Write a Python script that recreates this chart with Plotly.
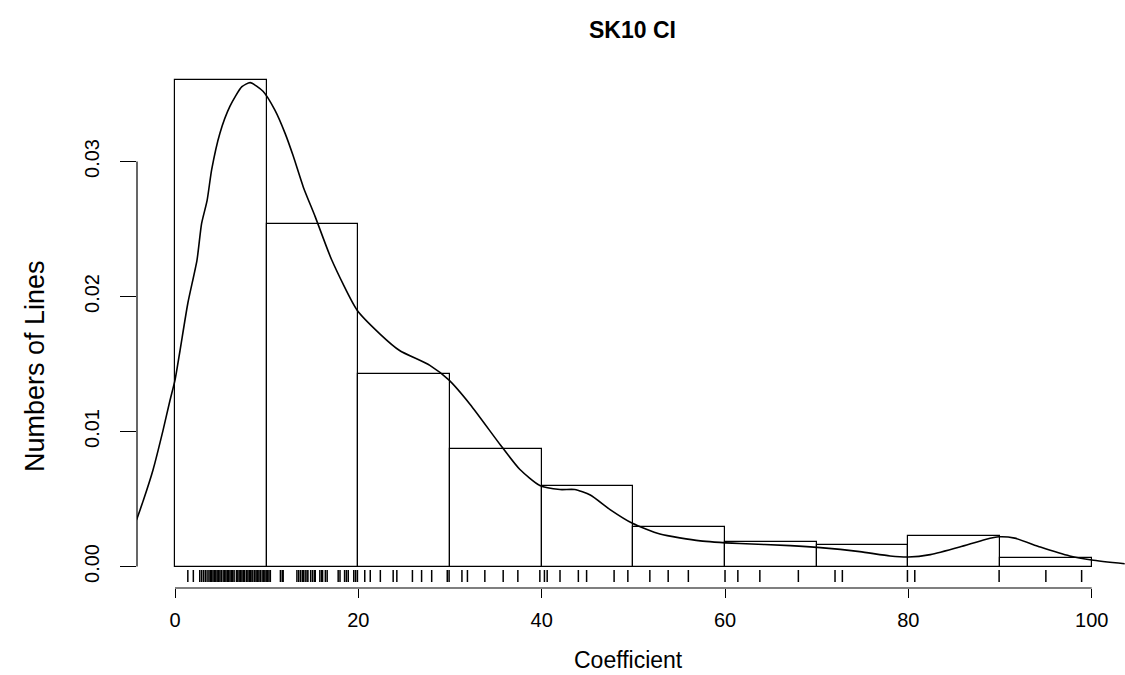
import plotly.graph_objects as go

# ---------------- data ----------------
bin_left = [0, 10, 20, 30, 40, 50, 60, 70, 80, 90]
bin_density = [0.03604, 0.02537, 0.01426, 0.0087, 0.00596, 0.00293, 0.00181, 0.00159, 0.00226, 0.00063]

dens_x = [-4.2, -3.45, -2.4, -1.3, -0.55, 0.0, 0.55, 1.4, 2.4, 2.9, 3.5, 4.0, 4.9, 6.0, 7.3, 8.2,
          9.6, 10.9, 12.0, 12.9, 14.0, 15.3, 17.1, 19.85, 22.4, 24.5, 27.8, 29.9, 32.2, 35.5, 37.6,
          39.8, 42.0, 43.6, 45.3, 47.5, 49.9, 52.9, 57.3, 61.6, 67.1, 70.4, 74.7, 78.0, 80.0, 82.4,
          85.6, 88.4, 89.9, 91.6, 94.4, 97.6, 100.0, 103.6]
dens_y = [0.00344, 0.0049, 0.00715, 0.0101, 0.0123, 0.0138, 0.016, 0.0195, 0.0227, 0.0254, 0.0271,
          0.0294, 0.0321, 0.0341, 0.03554, 0.03584, 0.0352, 0.0338, 0.0321, 0.0304, 0.0281, 0.0259,
          0.0227, 0.019, 0.0172, 0.016, 0.0149, 0.0138, 0.012, 0.009, 0.0072, 0.006, 0.0057, 0.0057,
          0.0053, 0.0042, 0.0032, 0.0024, 0.0019, 0.0017, 0.00155, 0.0014, 0.0011, 0.00078, 0.0007,
          0.00088, 0.00144, 0.002, 0.0022, 0.0021, 0.00144, 0.00078, 0.00048, 0.0002]

rug_values = [1.4, 2.0, 2.7, 2.9, 3.1, 3.3, 3.5, 3.7, 3.85, 4.0, 4.15, 4.3, 4.45, 4.6, 4.75, 4.9,
              5.05, 5.25, 5.4, 5.55, 5.7, 5.85, 6.0, 6.15, 6.3, 6.45, 6.7, 6.85, 7.0, 7.15, 7.3,
              7.45, 7.6, 7.8, 7.95, 8.1, 8.25, 8.4, 8.5, 8.7, 8.85, 9.0, 9.15, 9.3, 9.5, 9.65, 9.8,
              9.95, 10.1, 10.25, 10.4,
              11.5, 11.7, 11.8, 13.3, 13.5, 13.7, 13.9, 14.0, 14.2, 14.4, 14.5, 14.8, 15.0, 15.2,
              15.3, 15.8, 16.0, 16.1, 16.4, 16.6, 17.8, 18.0, 18.5, 18.7, 18.9, 19.5, 19.7, 19.9,
              20.7, 21.3, 22.4, 23.8, 24.2, 25.9, 26.9, 28.0, 29.7, 29.9,
              31.3, 31.9, 33.8, 35.8, 37.4, 39.8,
              40.3, 40.6, 42.0, 44.0, 44.9, 47.9, 49.4,
              51.8, 53.8, 56.0, 60.0,
              61.4, 63.8, 68.0,
              72.0, 72.8, 79.9,
              80.7, 89.9, 95.0, 98.9]

x_ticks = [0, 20, 40, 60, 80, 100]
y_ticks = [0.00, 0.01, 0.02, 0.03]
y_tick_text = ["0.00", "0.01", "0.02", "0.03"]

title_text = "SK10 CI"
x_title = "Coefficient"
y_title = "Numbers of Lines"

# ---------------- layout geometry ----------------
W, H = 1125, 675
left_px, right_px, top_px, bottom_px = 137, 1125, 40, 588
px_per_unit = 9.167
x0_px = 175
y0_px = 566.5
px_per_density = 13500.0

x_range = [(left_px - x0_px) / px_per_unit, (right_px - x0_px) / px_per_unit]
y_range = [(y0_px - bottom_px) / px_per_density, (y0_px - top_px) / px_per_density]

def py(q):  # pixel y -> paper y
    return (bottom_px - q) / (bottom_px - top_px)

def px(p):  # pixel x -> paper x
    return (p - left_px) / (right_px - left_px)

FONT = "Liberation Sans, Arial, Helvetica, sans-serif"

fig = go.Figure()

# histogram bars
fig.add_trace(go.Bar(
    x=[b + 5 for b in bin_left], y=bin_density, width=10,
    marker=dict(color="white", line=dict(color="black", width=1.2)),
    showlegend=False, hoverinfo="skip"))

# density curve
fig.add_trace(go.Scatter(
    x=dens_x, y=dens_y, mode="lines", line=dict(color="black", width=1.6, shape="spline", smoothing=0.6),
    showlegend=False, hoverinfo="skip"))

# rug
rug_top = (y0_px - 570) / px_per_density
rug_bot = (y0_px - 582) / px_per_density
rx, ry = [], []
for v in rug_values:
    rx += [v, v, None]
    ry += [rug_top, rug_bot, None]
fig.add_trace(go.Scatter(x=rx, y=ry, mode="lines", line=dict(color="black", width=1.5),
                         showlegend=False, hoverinfo="skip"))

# R-style axis lines (only spanning tick range)
fig.add_shape(type="line", xref="x", yref="paper", x0=x_ticks[0], x1=x_ticks[-1], y0=0, y1=0,
              line=dict(color="black", width=1.2))
fig.add_shape(type="line", xref="paper", yref="y", x0=0, x1=0, y0=y_ticks[0], y1=y_ticks[-1],
              line=dict(color="black", width=1.2))

fig.update_layout(
    width=W, height=H,
    margin=dict(l=left_px, r=W - right_px, t=top_px, b=H - bottom_px),
    paper_bgcolor="white", plot_bgcolor="white",
    bargap=0,
    font=dict(family=FONT, color="black"),
    xaxis=dict(range=x_range, tickvals=x_ticks, ticks="outside", ticklen=9, tickwidth=1.2,
               tickcolor="black", showline=False, showgrid=False, zeroline=False,
               tickfont=dict(size=20, family=FONT), ticklabelstandoff=5),
    yaxis=dict(range=y_range, tickvals=y_ticks, ticktext=y_tick_text, ticks="outside", ticklen=16,
               tickwidth=1.2, tickcolor="black", showline=False, showgrid=False, zeroline=False,
               tickangle=-90, tickfont=dict(size=20, family=FONT), ticklabelstandoff=13),
    annotations=[
        dict(text="<b>%s</b>" % title_text, x=px(632), y=py(30), xref="paper", yref="paper",
             showarrow=False, font=dict(size=23, family=FONT), xanchor="center", yanchor="middle"),
        dict(text=x_title, x=px(628), y=py(660), xref="paper", yref="paper",
             showarrow=False, font=dict(size=23, family=FONT), xanchor="center", yanchor="middle"),
        dict(text=y_title, x=px(35), y=py(366), xref="paper", yref="paper", textangle=-90,
             showarrow=False, font=dict(size=27, family=FONT), xanchor="center", yanchor="middle"),
    ],
)

fig.write_html("out.html")
